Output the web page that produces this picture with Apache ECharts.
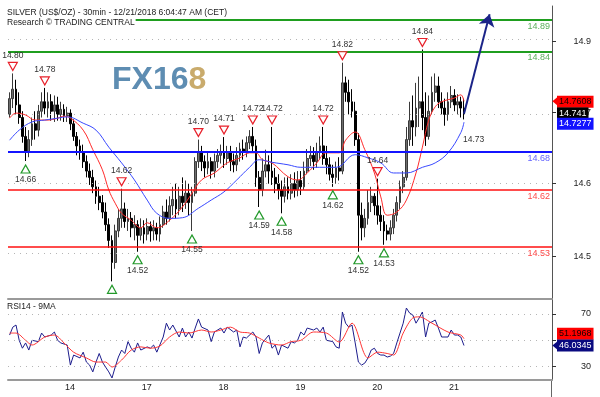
<!DOCTYPE html>
<html>
<head>
<meta charset="utf-8">
<script src="https://cdn.jsdelivr.net/npm/echarts@6/dist/echarts.min.js"></script>
<style>
  html, body { margin: 0; padding: 0; background: #fff; }
  #chart { width: 600px; height: 397px; }
</style>
</head>
<body>
<div id="chart"></div>
<script>
// time slots (hourly), Dec 13 07:00 -> projection room on Dec 22
const dayNames = ['13', '14', '17', '18', '19', '20', '21', '22'];
const firstSlotHour = 7;
const slotTotal = 170;

// [open, close, low, high]
const bars = [
  [14.740, 14.765, 14.735, 14.775], [14.765, 14.780, 14.750, 14.805], [14.780, 14.755, 14.740, 14.795],
  [14.755, 14.735, 14.725, 14.775], [14.735, 14.705, 14.695, 14.745], [14.705, 14.680, 14.666, 14.720],
  [14.680, 14.700, 14.672, 14.715], [14.700, 14.725, 14.690, 14.735], [14.725, 14.715, 14.700, 14.745],
  [14.715, 14.745, 14.705, 14.755], [14.745, 14.760, 14.735, 14.775], [14.760, 14.750, 14.740, 14.782],
  [14.750, 14.760, 14.735, 14.775], [14.760, 14.745, 14.730, 14.772], [14.745, 14.755, 14.728, 14.770],
  [14.755, 14.740, 14.730, 14.768], [14.740, 14.748, 14.730, 14.760], [14.748, 14.738, 14.728, 14.756],
  [14.738, 14.742, 14.728, 14.752], [14.742, 14.725, 14.715, 14.748], [14.725, 14.705, 14.698, 14.732],
  [14.705, 14.690, 14.675, 14.712], [14.690, 14.680, 14.668, 14.700], [14.680, 14.665, 14.655, 14.692],
  [14.665, 14.650, 14.640, 14.675], [14.650, 14.640, 14.628, 14.662], [14.640, 14.625, 14.615, 14.652],
  [14.625, 14.610, 14.598, 14.635], [14.610, 14.600, 14.588, 14.625], [14.600, 14.585, 14.575, 14.612],
  [14.585, 14.565, 14.555, 14.600], [14.565, 14.540, 14.528, 14.575], [14.540, 14.505, 14.475, 14.548],
  [14.505, 14.555, 14.495, 14.565], [14.555, 14.575, 14.545, 14.590], [14.575, 14.590, 14.560, 14.622],
  [14.590, 14.570, 14.560, 14.600], [14.570, 14.575, 14.555, 14.590], [14.575, 14.560, 14.545, 14.585],
  [14.560, 14.565, 14.540, 14.580], [14.565, 14.548, 14.522, 14.572], [14.548, 14.560, 14.540, 14.575],
  [14.560, 14.550, 14.535, 14.572], [14.550, 14.562, 14.540, 14.575], [14.562, 14.555, 14.538, 14.570],
  [14.555, 14.560, 14.540, 14.572], [14.560, 14.550, 14.540, 14.568], [14.550, 14.565, 14.538, 14.578],
  [14.565, 14.585, 14.560, 14.595], [14.585, 14.575, 14.565, 14.605], [14.575, 14.595, 14.570, 14.610],
  [14.595, 14.605, 14.580, 14.625], [14.605, 14.590, 14.575, 14.630], [14.590, 14.610, 14.580, 14.625],
  [14.610, 14.600, 14.585, 14.640], [14.600, 14.615, 14.590, 14.635], [14.615, 14.600, 14.580, 14.630],
  [14.600, 14.615, 14.555, 14.625], [14.615, 14.665, 14.610, 14.672], [14.665, 14.680, 14.655, 14.700],
  [14.680, 14.665, 14.650, 14.690], [14.665, 14.655, 14.640, 14.675], [14.655, 14.665, 14.645, 14.680],
  [14.665, 14.650, 14.638, 14.672], [14.650, 14.665, 14.640, 14.678], [14.665, 14.675, 14.655, 14.685],
  [14.675, 14.680, 14.662, 14.692], [14.680, 14.670, 14.655, 14.704], [14.670, 14.680, 14.660, 14.690],
  [14.680, 14.665, 14.650, 14.690], [14.665, 14.660, 14.648, 14.678], [14.660, 14.675, 14.650, 14.688],
  [14.675, 14.685, 14.665, 14.695], [14.685, 14.680, 14.668, 14.700], [14.680, 14.695, 14.672, 14.705],
  [14.695, 14.705, 14.685, 14.715], [14.705, 14.690, 14.680, 14.720], [14.690, 14.640, 14.625, 14.700],
  [14.640, 14.620, 14.593, 14.650], [14.620, 14.650, 14.610, 14.670], [14.650, 14.660, 14.640, 14.684],
  [14.660, 14.650, 14.630, 14.675], [14.650, 14.640, 14.628, 14.720], [14.640, 14.630, 14.615, 14.655],
  [14.630, 14.620, 14.605, 14.645], [14.620, 14.610, 14.583, 14.635], [14.610, 14.625, 14.600, 14.640],
  [14.625, 14.615, 14.605, 14.640], [14.615, 14.630, 14.605, 14.645], [14.630, 14.620, 14.608, 14.648],
  [14.620, 14.635, 14.610, 14.650], [14.635, 14.625, 14.612, 14.650], [14.625, 14.650, 14.620, 14.665],
  [14.650, 14.670, 14.645, 14.685], [14.670, 14.675, 14.658, 14.690], [14.675, 14.665, 14.652, 14.688],
  [14.665, 14.680, 14.655, 14.695], [14.680, 14.690, 14.668, 14.705], [14.690, 14.670, 14.660, 14.720],
  [14.670, 14.660, 14.645, 14.690], [14.660, 14.645, 14.635, 14.672], [14.645, 14.640, 14.625, 14.660],
  [14.640, 14.655, 14.630, 14.665], [14.655, 14.650, 14.635, 14.672], [14.650, 14.790, 14.645, 14.822],
  [14.790, 14.775, 14.760, 14.800], [14.775, 14.760, 14.740, 14.795], [14.760, 14.745, 14.735, 14.780],
  [14.745, 14.700, 14.690, 14.760], [14.700, 14.580, 14.522, 14.710], [14.580, 14.560, 14.540, 14.600],
  [14.560, 14.575, 14.545, 14.590], [14.575, 14.600, 14.565, 14.620], [14.600, 14.610, 14.585, 14.625],
  [14.610, 14.595, 14.580, 14.615], [14.595, 14.580, 14.565, 14.638], [14.580, 14.570, 14.555, 14.595],
  [14.570, 14.555, 14.533, 14.580], [14.555, 14.550, 14.540, 14.565], [14.550, 14.560, 14.540, 14.572],
  [14.560, 14.580, 14.550, 14.590], [14.580, 14.600, 14.570, 14.610], [14.600, 14.625, 14.590, 14.635],
  [14.625, 14.640, 14.615, 14.650], [14.640, 14.700, 14.635, 14.720], [14.700, 14.730, 14.690, 14.760],
  [14.730, 14.720, 14.690, 14.770], [14.720, 14.750, 14.705, 14.790], [14.750, 14.760, 14.720, 14.800],
  [14.760, 14.735, 14.715, 14.843], [14.735, 14.705, 14.690, 14.775], [14.705, 14.745, 14.700, 14.770],
  [14.745, 14.775, 14.740, 14.800], [14.775, 14.785, 14.760, 14.805], [14.785, 14.760, 14.750, 14.800],
  [14.760, 14.750, 14.740, 14.775], [14.750, 14.740, 14.722, 14.765], [14.740, 14.760, 14.730, 14.775],
  [14.760, 14.770, 14.750, 14.785], [14.770, 14.755, 14.745, 14.780], [14.755, 14.760, 14.740, 14.772],
  [14.760, 14.750, 14.735, 14.768], [14.750, 14.741, 14.732, 14.765]
];

// moving averages: [slot, value]
const maFast = [
  [0, 14.734], [2, 14.742], [5, 14.739], [8, 14.731], [12, 14.731], [15, 14.734], [17, 14.737], [19, 14.734],
  [23, 14.715], [26, 14.684], [29, 14.652], [31, 14.620], [33, 14.599], [35, 14.583], [38, 14.572], [41, 14.560],
  [43, 14.568], [46, 14.560], [50, 14.572], [54, 14.593], [57, 14.615], [60, 14.636], [64, 14.647], [68, 14.663],
  [72, 14.671], [75, 14.679], [77, 14.679], [79, 14.668], [82, 14.663], [87, 14.641], [90, 14.636], [93, 14.647],
  [96, 14.663], [99, 14.679], [103, 14.679], [105, 14.699], [108, 14.712], [111, 14.684], [114, 14.647],
  [116, 14.609], [118, 14.580], [121, 14.585], [124, 14.604], [127, 14.647], [129, 14.688], [131, 14.731],
  [133, 14.752], [135, 14.760], [139, 14.766], [141, 14.771], [142, 14.7608]
];
const maSlow = [
  [0, 14.699], [3, 14.715], [7, 14.728], [11, 14.731], [15, 14.734], [18, 14.736], [23, 14.726], [27, 14.715],
  [31, 14.688], [35, 14.663], [39, 14.636], [43, 14.604], [46, 14.583], [50, 14.575], [54, 14.576], [59, 14.591],
  [63, 14.604], [67, 14.617], [71, 14.636], [75, 14.656], [78, 14.668], [82, 14.664], [87, 14.660], [91, 14.656],
  [95, 14.656], [102, 14.656], [108, 14.676], [112, 14.671], [116, 14.663], [120, 14.647], [124, 14.647],
  [129, 14.656], [133, 14.663], [137, 14.679], [141, 14.711], [142, 14.7277]
];

const rsi = [
  [0, 54], [1, 60], [2, 61.6], [3, 50], [4, 44], [5, 48], [6, 42.6], [7, 50], [9, 49], [10, 55.5], [11, 52.5],
  [13, 54], [14, 56.3], [15, 50], [16, 48], [18, 46.4], [19, 31.2], [20, 38.8], [22, 36.6], [23, 41], [24, 33.5],
  [25, 31.2], [26, 26], [27, 33.5], [28, 40], [29, 33.5], [30, 29.7], [31, 26], [32, 21.4], [33, 29.7], [34, 37.3],
  [35, 42.6], [36, 40], [37, 49], [38, 44], [39, 41], [40, 48], [41, 42.6], [43, 45], [44, 44], [45, 46.4], [46, 41],
  [48, 52.5], [49, 63], [50, 57.8], [51, 61.6], [53, 52.5], [54, 59.3], [55, 52.5], [56, 56.3], [57, 51.7],
  [58, 59.3], [59, 66.2], [60, 60], [62, 57.8], [63, 49], [64, 56.3], [66, 59.3], [67, 55.5], [68, 60], [70, 56.3],
  [71, 57.8], [72, 45], [73, 52.5], [74, 51.7], [76, 56.3], [77, 52.5], [78, 40], [79, 48], [81, 54], [82, 44],
  [83, 46.4], [84, 38.8], [85, 46.4], [87, 44], [88, 49], [89, 48], [90, 50], [91, 56.3], [92, 54], [93, 59.3],
  [95, 57.8], [96, 59.3], [97, 56.3], [98, 60], [99, 50], [101, 49], [102, 45], [103, 44], [104, 71.5], [105, 63],
  [106, 60], [107, 61.6], [108, 48], [109, 33.5], [110, 31.2], [111, 32.7], [112, 36.6], [113, 42.6], [114, 44],
  [115, 40], [116, 38.8], [117, 38.8], [118, 37.3], [119, 38], [120, 40], [121, 48], [122, 55.5], [123, 63],
  [124, 74.5], [125, 70.7], [126, 69.2], [127, 63], [128, 67], [129, 71.5], [130, 52.5], [131, 63], [132, 64],
  [133, 65.4], [134, 59.3], [135, 52.5], [137, 52.5], [138, 57.8], [139, 54], [140, 54], [141, 52.5], [142, 46.0345]
];
const rsiMa = [
  [0, 55.5], [2, 55.5], [5, 50], [7, 46.4], [11, 52.5], [14, 54], [17, 48], [20, 41], [24, 36.6], [27, 33.5],
  [30, 33.5], [32, 29.7], [35, 35], [38, 42.6], [41, 45], [44, 44], [47, 45.7], [50, 52.5], [53, 56.3], [56, 55.5],
  [60, 57.8], [63, 56.3], [66, 57.8], [69, 60], [72, 56.3], [75, 55.5], [78, 51.7], [81, 48], [85, 46.4], [88, 49],
  [91, 50], [95, 56.3], [99, 55.5], [103, 48.7], [107, 63], [112, 36.6], [115, 41], [118, 40], [120, 38.8],
  [123, 55.5], [126, 67], [128, 67.8], [132, 63], [137, 56.3], [141, 54], [142, 51.1968]
];

// key levels
const levelValues = [14.89, 14.84, 14.68, 14.62, 14.53];
const levelLabels = ['14.89', '14.84', '14.68', '14.62', '14.53'];
const levelKinds = ['res', 'res', 'pivot', 'sup', 'sup'];

// swing highs / lows marked on the chart
const peakSlots = [1, 11, 35, 59, 67, 76, 82, 98, 104, 115, 129];
const peakLabels = ['14.80', '14.78', '14.62', '14.70', '14.71', '14.72', '14.72', '14.72', '14.82', '14.64', '14.84'];
const troughSlots = [5, 32, 40, 57, 78, 85, 101, 109, 117];
const troughLabels = ['14.66', '', '14.52', '14.55', '14.59', '14.58', '14.62', '14.52', '14.53'];
const noteSlot = 145;
const notePrice = 14.70;
const noteText = '14.73';

// projected move
const targetSlot = 150;
const targetPrice = 14.899;

// axis ticks
const priceTicks = [14.515, 14.63, 14.743, 14.856];
const priceTickLabels = ['14.5', '14.6', '14.7', '14.9'];
const rsiTicks = [30, 50, 70];
const rsiTickLabels = ['30', '', '70'];
const priceMin = 14.447, priceMax = 14.912;
const rsiMin = 19.86, rsiMax = 81.36;

const categories = [];
for (let d = 0; d < dayNames.length; d++) {
  for (let h = d === 0 ? firstSlotHour : 0; h < 24 && categories.length < slotTotal; h++) {
    categories.push(dayNames[d] + ' ' + String(h).padStart(2, '0') + ':00');
  }
}
// only days that have data get a tick
const isDayStart = (idx, val) => idx < bars.length && String(val).endsWith(' 00:00');

const font = '"Liberation Sans", Arial, sans-serif';
const kindStyle = {
  res: { line: '#1f9e1f', text: '#5aae5a', width: 2 },
  pivot: { line: '#1414ff', text: '#6464ff', width: 2 },
  sup: { line: '#ff1010', text: '#ff4a4a', width: 1.6 }
};

function tickLabel(ticks, labels) {
  return (v) => {
    let best = 0;
    ticks.forEach((t, i) => { if (Math.abs(t - v) < Math.abs(ticks[best] - v)) best = i; });
    return labels[best];
  };
}

function tag(value, bg, fg, dy) {
  return {
    yAxis: value,
    lineStyle: { color: 'rgba(0,0,0,0)', width: 1, type: 'solid' },
    label: {
      show: true, position: 'end', distance: 5, formatter: String(value),
      backgroundColor: bg, color: fg, fontSize: 9, padding: [2, 2, 1, 2], offset: [0, dy || 0]
    }
  };
}
function pointer(value, colour) {
  return {
    coord: [categories[slotTotal - 1], value],
    symbol: 'path://M0,5 L6,0 L6,10 Z', symbolSize: [6, 10], symbolOffset: [5, 0],
    itemStyle: { color: colour }, label: { show: false }
  };
}

const lastClose = bars[bars.length - 1][1];
const fastLast = maFast[maFast.length - 1][1];
const slowLast = maSlow[maSlow.length - 1][1];
const rsiLast = rsi[rsi.length - 1][1];
const rsiMaLast = rsiMa[rsiMa.length - 1][1];

const downTri = 'path://M0,0 L10,0 L5,9 Z';
const upTri = 'path://M5,0 L10,9 L0,9 Z';

const priceMarks = [];
peakSlots.forEach((s, k) => priceMarks.push({
  coord: [categories[s], bars[s][3]], symbol: downTri, symbolSize: [9, 8], symbolOffset: [0, -7],
  itemStyle: { color: '#fff', borderColor: '#e8202a', borderWidth: 1.2 },
  label: { show: true, position: 'top', distance: 2, formatter: peakLabels[k], color: '#333', fontSize: 8.5 }
}));
troughSlots.forEach((s, k) => priceMarks.push({
  coord: [categories[s], bars[s][2]], symbol: upTri, symbolSize: [9, 8], symbolOffset: [0, 8],
  itemStyle: { color: '#fff', borderColor: '#22992a', borderWidth: 1.2 },
  label: { show: !!troughLabels[k], position: 'bottom', distance: 2, formatter: troughLabels[k], color: '#333', fontSize: 8.5 }
}));
priceMarks.push({
  coord: [categories[noteSlot], notePrice], symbol: 'circle', symbolSize: 1,
  itemStyle: { color: 'rgba(0,0,0,0)' },
  label: { show: true, position: 'inside', formatter: noteText, color: '#333', fontSize: 8.5 }
});
priceMarks.push(pointer(fastLast, '#ff0000'));

const priceLines = [];
priceTicks.forEach((v) => priceLines.push({
  yAxis: v, lineStyle: { type: [1, 5], color: '#b5b5b5', width: 1 }, label: { show: false }
}));
levelValues.forEach((v, i) => {
  const st = kindStyle[levelKinds[i]];
  priceLines.push({
    yAxis: v, lineStyle: { type: 'solid', color: st.line, width: st.width },
    label: { show: true, position: 'insideEndBottom', distance: 2, formatter: levelLabels[i], color: st.text, fontSize: 9 }
  });
});
priceLines.push([
  { coord: [categories[bars.length - 1], lastClose], symbol: 'none' },
  { coord: [categories[targetSlot], targetPrice], symbol: 'arrow', symbolSize: 12,
    lineStyle: { color: '#1b2488', width: 2, type: 'solid' }, label: { show: false } }
]);
priceLines.push(tag(fastLast, '#ff0000', '#1a0000', 0));
priceLines.push(tag(lastClose, '#000000', '#ffffff', -1));
priceLines.push(tag(slowLast, '#1212ff', '#ffffff', 3));

const rsiLines = [];
rsiTicks.forEach((v) => rsiLines.push({
  yAxis: v, lineStyle: { type: [1, 5], color: '#b5b5b5', width: 1 }, label: { show: false }
}));
rsiLines.push(tag(rsiMaLast, '#ff0000', '#1a0000', -5));
rsiLines.push(tag(rsiLast, '#0a0a80', '#ffffff', 0));

const chart = echarts.init(document.getElementById('chart'));
chart.setOption({
  animation: false,
  textStyle: { fontFamily: font },
  title: [
    { text: 'SILVER (US$/OZ) - 30min - 12/21/2018 6:04:47 AM (CET)', left: 7, top: 8, padding: 0,
      textStyle: { fontSize: 8.5, fontWeight: 'normal', color: '#222', fontFamily: font } },
    { text: 'Research © TRADING CENTRAL', left: 7, top: 18, padding: [0, 1, 1, 0], backgroundColor: '#fff',
      textStyle: { fontSize: 8.5, fontWeight: 'normal', color: '#222', fontFamily: font } },
    { text: 'RSI14 - 9MA', left: 7, top: 302, padding: 0,
      textStyle: { fontSize: 8.5, fontWeight: 'normal', color: '#222', fontFamily: font } }
  ],
  graphic: [
    { type: 'text', left: 112, top: 64, z: 1, silent: true,
      style: { text: '{a|FX16}{b|8}', rich: {
        a: { fill: '#5e8db2', fontSize: 32, fontWeight: 'bold', fontFamily: font },
        b: { fill: '#c9ab6c', fontSize: 32, fontWeight: 'bold', fontFamily: font }
      } } },
    { type: 'line', silent: true, shape: { x1: 551.5, y1: 380, x2: 551.5, y2: 397 },
      style: { stroke: '#666', lineWidth: 1 } }
  ],
  grid: [
    { left: 8, right: 48, top: 6, height: 293 },
    { left: 8, right: 48, top: 299, height: 81 }
  ],
  xAxis: [
    { type: 'category', gridIndex: 0, data: categories, boundaryGap: true,
      axisLine: { onZero: false, lineStyle: { color: '#9a9a9a', width: 2 } },
      axisTick: { show: false }, axisLabel: { show: false }, splitLine: { show: false } },
    { type: 'category', gridIndex: 1, data: categories, boundaryGap: true,
      axisLine: { onZero: false, lineStyle: { color: '#9a9a9a', width: 2 } },
      axisTick: { interval: isDayStart, length: 4, lineStyle: { color: '#333' } },
      axisLabel: { interval: isDayStart, formatter: (v) => v.split(' ')[0], align: 'left', margin: 3,
        padding: [0, 0, 0, 1], fontSize: 9, color: '#222' },
      splitLine: { show: false } }
  ],
  yAxis: [
    { type: 'value', gridIndex: 0, position: 'right', min: priceMin, max: priceMax, scale: true,
      axisLine: { show: true, lineStyle: { color: '#555' } },
      axisTick: { show: true, customValues: priceTicks, length: 4, lineStyle: { color: '#333' } },
      axisLabel: { customValues: priceTicks, formatter: tickLabel(priceTicks, priceTickLabels),
        align: 'right', margin: 39, fontSize: 9, color: '#222' },
      splitLine: { show: false } },
    { type: 'value', gridIndex: 1, position: 'right', min: rsiMin, max: rsiMax,
      axisLine: { show: true, lineStyle: { color: '#555' } },
      axisTick: { show: true, customValues: rsiTicks, length: 4, lineStyle: { color: '#333' } },
      axisLabel: { customValues: rsiTicks, formatter: tickLabel(rsiTicks, rsiTickLabels),
        align: 'right', margin: 39, fontSize: 9, color: '#222' },
      splitLine: { show: false } }
  ],
  series: [
    { name: 'SILVER', type: 'candlestick', xAxisIndex: 0, yAxisIndex: 0, data: bars, barWidth: 2.4,
      itemStyle: { color: '#6e6e6e', color0: '#000', borderColor: '#3a3a3a', borderColor0: '#000', borderWidth: 1 },
      markLine: { silent: true, animation: false, symbol: 'none', data: priceLines },
      markPoint: { silent: true, animation: false, data: priceMarks } },
    { name: 'MA fast', type: 'line', xAxisIndex: 0, yAxisIndex: 0, data: maFast, smooth: 0.4,
      symbol: 'none', lineStyle: { color: '#ff2a2a', width: 1 }, z: 3 },
    { name: 'MA slow', type: 'line', xAxisIndex: 0, yAxisIndex: 0, data: maSlow, smooth: 0.4,
      symbol: 'none', lineStyle: { color: '#3848ff', width: 1 }, z: 3 },
    { name: 'RSI14', type: 'line', xAxisIndex: 1, yAxisIndex: 1, data: rsi,
      symbol: 'none', lineStyle: { color: '#1c1c8c', width: 1 },
      markLine: { silent: true, animation: false, symbol: 'none', data: rsiLines },
      markPoint: { silent: true, animation: false, data: [pointer(rsiLast, '#0a0a80')] } },
    { name: '9MA', type: 'line', xAxisIndex: 1, yAxisIndex: 1, data: rsiMa, smooth: 0.3,
      symbol: 'none', lineStyle: { color: '#ff3535', width: 1 } }
  ]
});
</script>
</body>
</html>
